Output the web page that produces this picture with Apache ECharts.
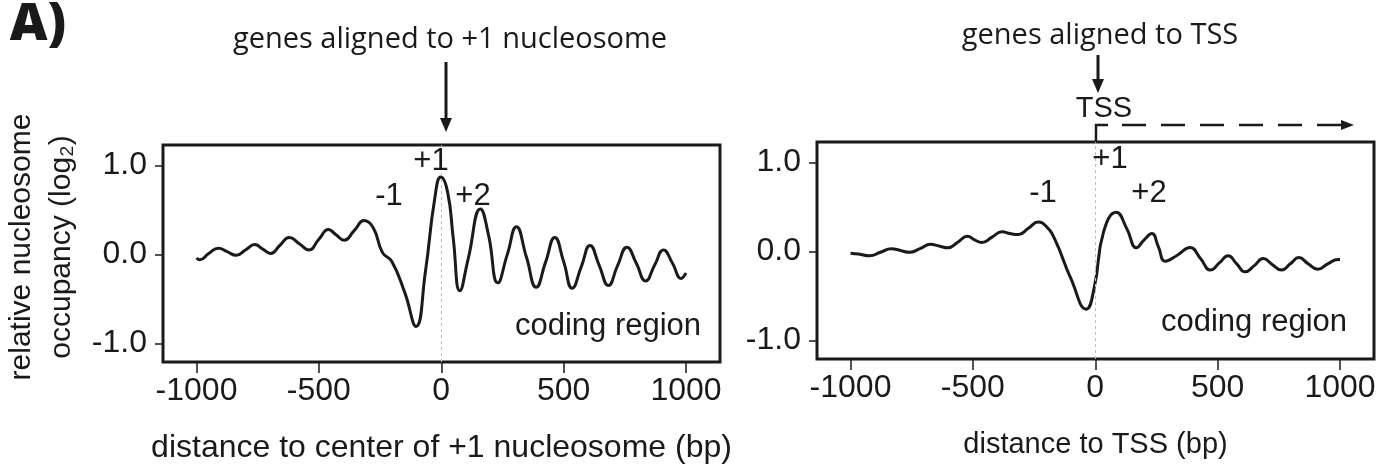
<!DOCTYPE html>
<html>
<head>
<meta charset="utf-8">
<title>nucleosome occupancy</title>
<script src="https://cdn.jsdelivr.net/npm/echarts@6/dist/echarts.min.js"></script>
<style>
  html, body { margin: 0; padding: 0; background: #fff; }
  #chart { width: 1388px; height: 471px; }
</style>
</head>
<body>
<div id="chart"></div>
<script>
// data
var xTicks = [-1000, -500, 0, 500, 1000];
var yTicks = [-1, 0, 1];

// genes aligned to +1 nucleosome
var plusOneX = [-1000, -986, -950, -910, -875, -838, -800, -762, -730, -697, -660, -621, -580, -541, -500, -461,
    -430, -397, -355, -316, -278, -240, -202, -149, -103, -65, -27, -2, 26, 49, 76, 110, 160, 193, 231, 270,
    307, 348, 388, 426, 464, 500, 535, 572, 608, 645, 683, 720, 759, 797, 835, 872, 908, 945, 980, 1000];
var plusOneY = [-0.04, -0.06, 0.01, 0.07, 0.03, -0.01, 0.05, 0.11, 0.06, 0.01, 0.10, 0.19, 0.12, 0.05, 0.17, 0.28,
    0.22, 0.16, 0.27, 0.38, 0.30, 0.02, -0.08, -0.43, -0.81, -0.20, 0.62, 0.87, 0.70, 0.18, -0.41, -0.05, 0.51, 0.22, -0.32, 0.00,
    0.31, -0.03, -0.37, -0.09, 0.19, -0.08, -0.38, -0.14, 0.10, -0.12, -0.35, -0.13, 0.08, -0.10, -0.30, -0.12, 0.05, -0.10, -0.27, -0.21];

// genes aligned to TSS
var tssX = [-1000, -967, -922, -878, -833, -796, -759, -716, -673, -638, -603, -563, -522, -493, -463, -422,
    -381, -348, -314, -273, -233, -200, -166, -99, -37, -3, 34, 86, 130, 168, 200, 231, 258, 286, 337, 387,
    430, 471, 507, 543, 578, 612, 650, 686, 724, 761, 797, 832, 870, 909, 950, 993, 1000];
var tssY = [-0.02, -0.03, -0.05, -0.01, 0.03, 0.01, -0.01, 0.03, 0.08, 0.06, 0.04, 0.10, 0.17, 0.13, 0.10, 0.16,
    0.22, 0.20, 0.19, 0.26, 0.33, 0.28, 0.14, -0.31, -0.65, -0.39, 0.22, 0.44, 0.25, 0.04, 0.13, 0.20, 0.05, -0.11, -0.04, 0.045,
    -0.08, -0.21, -0.13, -0.05, -0.14, -0.23, -0.16, -0.08, -0.15, -0.21, -0.14, -0.07, -0.14, -0.20, -0.14, -0.09, -0.09];

function pairs(xs, ys) {
    var out = [];
    for (var i = 0; i < xs.length; i++) out.push([xs[i], ys[i]]);
    return out;
}

var INK = '#1a1a1a';
var SANS = '"Liberation Sans", Arial, Helvetica, sans-serif';
var NOTE = '"Open Sans", "Noto Sans", sans-serif';

function xAxisFor(idx, title, titleSize) {
    return {
        type: 'value', gridIndex: idx, min: -1137, max: 1139,
        axisLine: { show: false, onZero: false },
        splitLine: { show: false },
        axisTick: { show: true, length: 11, customValues: xTicks, lineStyle: { color: INK, width: 1.5 } },
        axisLabel: {
            customValues: xTicks, margin: 13, fontSize: 32, color: INK, fontFamily: SANS,
            formatter: function (v) { return String(v); }
        },
        name: title, nameLocation: 'middle', nameGap: 70,
        nameTextStyle: { fontSize: titleSize, color: INK, fontFamily: SANS, lineHeight: 32 }
    };
}
function yAxisFor(idx) {
    return {
        type: 'value', gridIndex: idx, min: -1.21, max: 1.23,
        axisLine: { show: false, onZero: false },
        splitLine: { show: false },
        axisTick: { show: true, length: 8, customValues: yTicks, lineStyle: { color: INK, width: 1.5 } },
        axisLabel: {
            customValues: yTicks, margin: 16, fontSize: 32, color: INK, fontFamily: SANS,
            formatter: function (v) { return v.toFixed(1); }
        }
    };
}
function curve(idx, data) {
    return {
        type: 'line', xAxisIndex: idx, yAxisIndex: idx, data: data,
        smooth: 0.5, symbol: 'none', silent: true,
        lineStyle: { color: INK, width: 3 },
        markLine: {
            silent: true, symbol: 'none', label: { show: false },
            lineStyle: { color: '#bdbdbd', type: [3, 3], width: 1 },
            data: [{ xAxis: 0 }]
        },
        z: 3
    };
}
function txt(x, y, s, size, font, extra, weight) {
    var st = {
        text: s, x: 0, y: 0, fill: INK, fontSize: size, fontFamily: font,
        fontWeight: weight || 'normal', align: 'center', verticalAlign: 'middle'
    };
    var el = { type: 'text', x: x, y: y, style: st, z: 10 };
    if (extra) for (var k in extra) el[k] = extra[k];
    return el;
}
function arrowDown(x, y0, y1) {
    return [
        { type: 'line', shape: { x1: x, y1: y0, x2: x, y2: y1 - 12 }, style: { stroke: INK, lineWidth: 3 }, z: 10 },
        { type: 'polygon', shape: { points: [[x - 6, y1 - 14], [x + 6, y1 - 14], [x, y1]] }, style: { fill: INK }, z: 10 }
    ];
}

var chart = echarts.init(document.getElementById('chart'));

var graphics = [
    txt(38, 25, 'A)', 52, '"Open Sans", sans-serif', null, 800),
    txt(450, 40, 'genes aligned to +1 nucleosome', 29, NOTE, null),
    txt(1100, 36, 'genes aligned to TSS', 29, NOTE, null),
    // y-axis title, two rotated lines
    txt(22, 247, 'relative nucleosome', 30, SANS, { rotation: Math.PI / 2 }),
    txt(62, 247, 'occupancy (log\u2082)', 30, SANS, { rotation: Math.PI / 2 }),
    // left panel annotations
    txt(431, 161, '+1', 31, SANS, null),
    txt(389, 196, '-1', 31, SANS, null),
    txt(473, 196, '+2', 31, SANS, null),
    txt(608, 326, 'coding region', 31, SANS, null),
    // right panel annotations
    txt(1110, 159, '+1', 31, SANS, null),
    txt(1043, 193, '-1', 31, SANS, null),
    txt(1149, 193, '+2', 31, SANS, null),
    txt(1254, 322, 'coding region', 31, SANS, null),
    txt(1104, 109, 'TSS', 29, SANS, null),
    // TSS bent arrow
    { type: 'polyline', shape: { points: [[1096, 142], [1096, 125], [1108, 125]] }, style: { stroke: INK, lineWidth: 2.5, fill: null }, z: 10 },
    { type: 'line', shape: { x1: 1122, y1: 125, x2: 1342, y2: 125 }, style: { stroke: INK, lineWidth: 2.5, lineDash: [24, 15] }, z: 10 },
    { type: 'polygon', shape: { points: [[1341, 120], [1341, 130], [1354, 125]] }, style: { fill: INK }, z: 10 }
].concat(arrowDown(446, 62, 132)).concat(arrowDown(1098, 55, 93));

chart.setOption({
    animation: false,
    backgroundColor: '#fff',
    grid: [
        { left: 163, top: 145, width: 557, height: 217, show: true, borderColor: INK, borderWidth: 3, backgroundColor: 'transparent' },
        { left: 817, top: 142, width: 557, height: 217, show: true, borderColor: INK, borderWidth: 3, backgroundColor: 'transparent' }
    ],
    xAxis: [
        xAxisFor(0, 'distance to center of +1 nucleosome (bp)', 32),
        xAxisFor(1, 'distance to TSS (bp)', 29)
    ],
    yAxis: [yAxisFor(0), yAxisFor(1)],
    series: [
        curve(0, pairs(plusOneX, plusOneY)),
        curve(1, pairs(tssX, tssY))
    ],
    graphic: graphics
});
</script>
</body>
</html>
